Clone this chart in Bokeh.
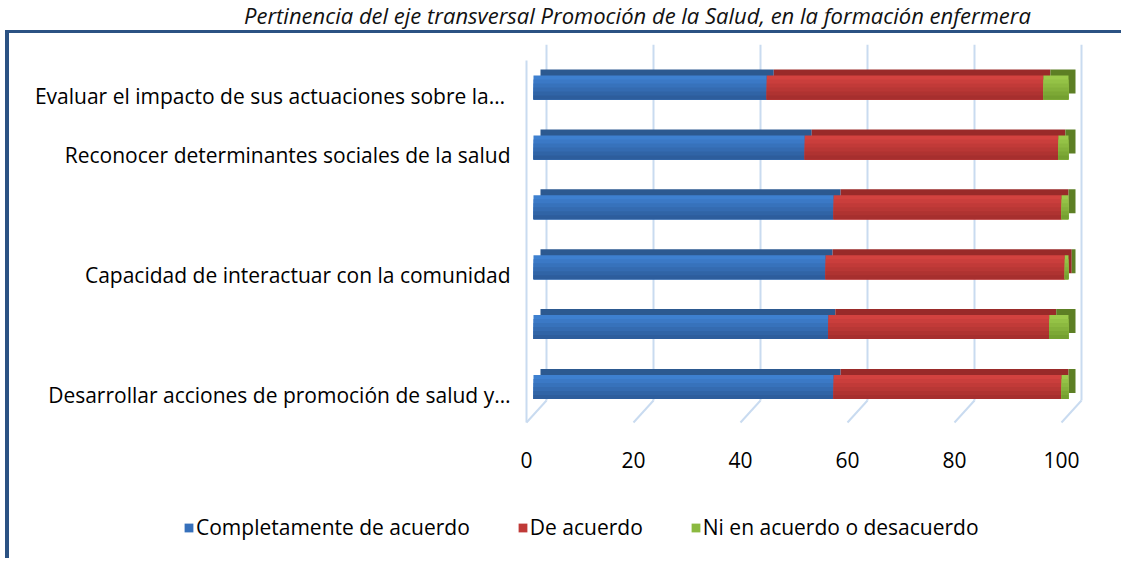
import numpy as np
from bokeh.plotting import figure
from bokeh.models import (Range1d, LinearAxis, FixedTicker, ColumnDataSource,
                          Legend, LegendItem, Div)
from bokeh.embed import file_html
from bokeh.resources import INLINE

# ---------------- data ----------------
title_text = "Pertinencia del eje transversal Promoción de la Salud, en la formación enfermera"
categories = [
    "Evaluar el  impacto de sus actuaciones sobre la…",
    "Reconocer determinantes sociales de la salud",
    "",
    "Capacidad de interactuar con la comunidad",
    "",
    "Desarrollar acciones de promoción de salud y…",
]
completamente = [43.6, 50.7, 56.1, 54.6, 55.1, 56.1]
de_acuerdo = [51.7, 47.4, 42.6, 44.7, 41.3, 42.6]
ni_acuerdo = [4.7, 1.9, 1.3, 0.7, 3.6, 1.3]
series_names = ["Completamente de acuerdo", "De acuerdo", "Ni en acuerdo o desacuerdo"]
x_ticks = [0, 20, 40, 60, 80, 100]

# ---------------- style / geometry ----------------
FONT = "Open Sans"
FS = "21px"
PXX = 5.35          # px per x unit
PXY = 59.9          # px per category step
X0 = -11 / PXX
X1 = X0 + 565 / PXX
Y0 = -37.5 / PXY
Y1 = 5 + 43 / PXY
DX = 7 / PXX        # depth of the 3D box, x
DY = 6 / PXY        # depth of the 3D box, y
BAR_H = 24 / PXY
BACK = 13 / PXX     # back wall offset of grid lines
FRONT = 7 / PXX     # floor front offset
FLOOR_BACK = -13.5 / PXY
FLOOR_FRONT = -35.5 / PXY
GRID_COLOR = "#c9dbf0"
BORDER = "#2b5283"

colors_top = ["#3e80d0", "#d3423f", "#9cca4b"]
colors_bot = ["#2d5d9c", "#a62f2e", "#74a030"]
colors_face = ["#2c5990", "#992a29", "#5d7f24"]
colors_legend = ["#3670bb", "#c03a38", "#8bb940"]

n = len(categories)
ys = np.array([n - 1 - i for i in range(n)], dtype=float)
vals = [np.array(completamente), np.array(de_acuerdo), np.array(ni_acuerdo)]
lefts, rights = [], []
acc = np.zeros(n)
for v in vals:
    lefts.append(acc.copy())
    acc = acc + v
    rights.append(acc.copy())

W = 1116
H_TITLE = 30
H_MAIN = 467
H_LEG = 61
p = figure(width=W, height=H_MAIN,
           x_range=Range1d(X0, X1), y_range=Range1d(Y0, Y1),
           output_backend="svg", toolbar_location=None,
           x_axis_location=None, y_axis_location=None,
           min_border_left=513, min_border_right=38,
           min_border_top=11, min_border_bottom=76,
           background_fill_color="white", border_fill_color="white",
           outline_line_color=None, margin=(0, 0, 0, 5))
p.styles = {"border-left": "4px solid " + BORDER, "border-top": "3px solid " + BORDER}
p.grid.visible = False

p.extra_x_ranges = {"xlab": Range1d(X0 + FRONT, X1 + FRONT)}
p.extra_y_ranges = {"ylab": Range1d(Y0 + 8 / PXY, Y1 + 8 / PXY)}

# grid (3D wall + floor)
gx = np.array(x_ticks, dtype=float)
p.segment(x0=gx + BACK, y0=np.full(len(gx), Y1), x1=gx + BACK, y1=np.full(len(gx), FLOOR_BACK),
          line_color=GRID_COLOR, line_width=2)
p.segment(x0=gx + BACK, y0=np.full(len(gx), FLOOR_BACK), x1=gx - FRONT, y1=np.full(len(gx), FLOOR_FRONT),
          line_color=GRID_COLOR, line_width=2)
p.segment(x0=[-FRONT], y0=[5 + 27 / PXY], x1=[-FRONT], y1=[FLOOR_FRONT],
          line_color=GRID_COLOR, line_width=2)

# 3D faces (top/side) behind
for k in range(3):
    src = ColumnDataSource(dict(y=ys + DY, left=lefts[k] + DX, right=rights[k] + DX))
    p.hbar(y="y", left="left", right="right", height=BAR_H, source=src,
           fill_color=colors_face[k], line_color=None)


def mix(c1, c2, t):
    a = [int(c1[i:i + 2], 16) for i in (1, 3, 5)]
    b = [int(c2[i:i + 2], 16) for i in (1, 3, 5)]
    return "#%02x%02x%02x" % tuple(int(round(a[j] + (b[j] - a[j]) * t)) for j in range(3))


# front faces with vertical shading (overlapping bands, lighter on top)
NB = 6
for k in range(3):
    for b in range(NB):
        hb = BAR_H * (NB - b) / NB
        yc = ys - BAR_H / 2 + hb / 2
        src = ColumnDataSource(dict(y=yc, left=lefts[k], right=rights[k]))
        col = mix(colors_top[k], colors_bot[k], b / (NB - 1))
        p.hbar(y="y", left="left", right="right", height=hb, source=src,
               fill_color=col, line_color=None)

# axes
xaxis = LinearAxis(x_range_name="xlab", ticker=FixedTicker(ticks=x_ticks))
xaxis.axis_line_color = None
xaxis.major_tick_line_color = None
xaxis.minor_tick_line_color = None
xaxis.major_label_text_font = FONT
xaxis.major_label_text_font_size = FS
xaxis.major_label_text_color = "#000000"
xaxis.major_label_standoff = 21
p.add_layout(xaxis, "below")

yaxis = LinearAxis(y_range_name="ylab", ticker=FixedTicker(ticks=list(range(n))))
yaxis.major_label_overrides = {int(ys[i]): categories[i] for i in range(n)}
yaxis.axis_line_color = None
yaxis.major_tick_line_color = None
yaxis.minor_tick_line_color = None
yaxis.major_label_text_font = FONT
yaxis.major_label_text_font_size = FS
yaxis.major_label_text_color = "#000000"
yaxis.major_label_standoff = 6
p.add_layout(yaxis, "left")

# legend strip (separate root figure, same left border)
pl = figure(width=W, height=H_LEG, x_range=Range1d(0, 1), y_range=Range1d(0, 1),
            output_backend="svg", toolbar_location=None,
            x_axis_location=None, y_axis_location=None,
            min_border=0, background_fill_color="white", border_fill_color="white",
            outline_line_color=None, margin=(0, 0, 0, 5))
pl.styles = {"border-left": "4px solid " + BORDER}
pl.grid.visible = False
legend_items = []
for k in range(3):
    # legend proxies: kept outside the visible range of this strip
    r = pl.hbar(y=[-5], left=[0], right=[1], height=0.1,
                fill_color=colors_legend[k], line_color=None)
    legend_items.append(LegendItem(label=series_names[k], renderers=[r]))

legend = Legend(items=legend_items, location=(174, 17), orientation="horizontal",
                background_fill_alpha=0, border_line_color=None,
                label_text_font=FONT, label_text_font_size=FS, label_text_color="#000000",
                glyph_width=11, glyph_height=11, spacing=47, padding=0, margin=0,
                label_standoff=2)
pl.add_layout(legend, "center")

title = Div(text=('<div style="width:1125px;text-align:center;font-family:\'Open Sans\';'
                  'font-style:italic;font-size:22px;line-height:30px;white-space:nowrap;'
                  'color:#111;position:relative;left:75px">' + title_text + '</div>'),
            width=1125, height=H_TITLE, margin=0)

open("out.html", "w").write(file_html([title, p, pl], INLINE))
